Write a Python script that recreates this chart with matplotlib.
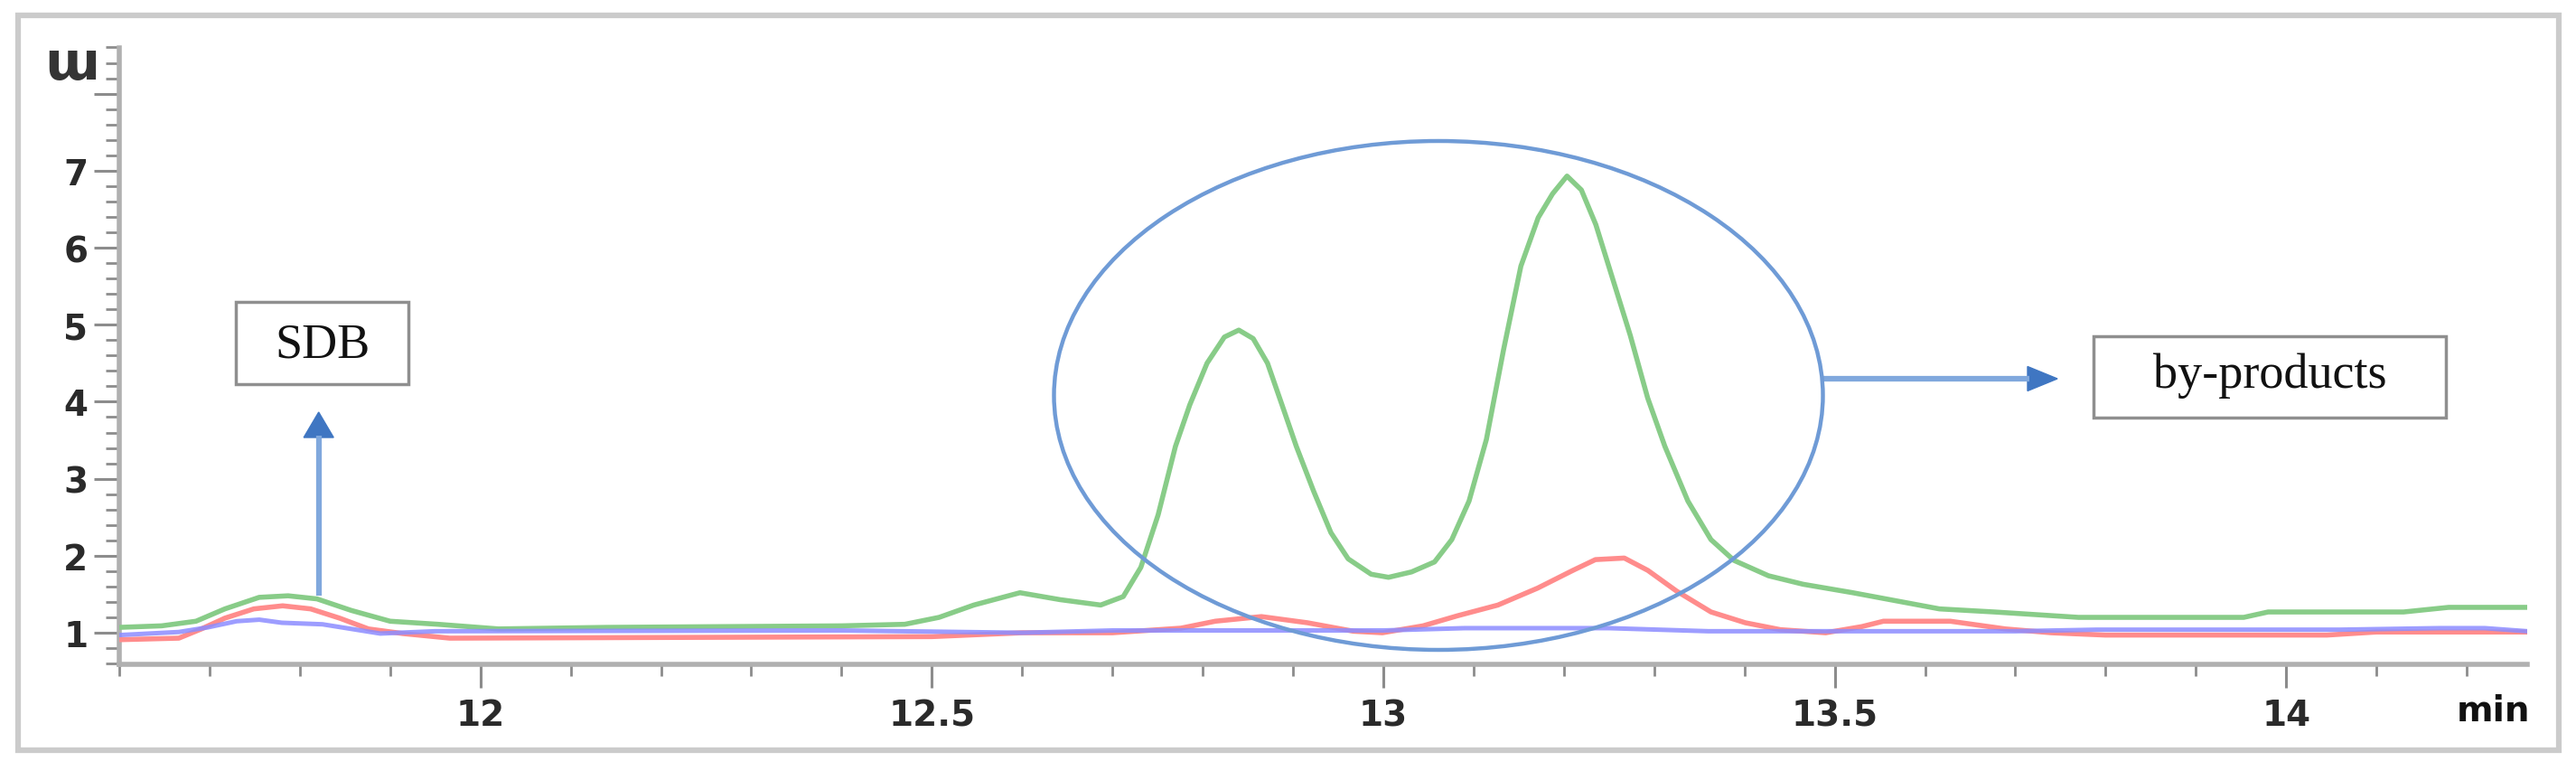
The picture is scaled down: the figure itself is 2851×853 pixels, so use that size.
import matplotlib
matplotlib.use("Agg")
import matplotlib.pyplot as plt
from matplotlib.patches import Rectangle, Ellipse, Polygon
from matplotlib.lines import Line2D
from matplotlib.ticker import MultipleLocator, FixedLocator

# ---------------- data ----------------
green_t = [11.60, 11.647, 11.685, 11.717, 11.755, 11.787, 11.819, 11.857, 11.90, 11.953,
           12.02, 12.14, 12.40, 12.47, 12.508, 12.5465, 12.5976, 12.642, 12.687, 12.712,
           12.7315, 12.7506, 12.7698, 12.7857, 12.8048, 12.824, 12.840, 12.8559, 12.8718, 12.8878,
           12.9037, 12.9228, 12.942, 12.9611, 12.9866, 13.0058, 13.0313, 13.0568, 13.0759, 13.095,
           13.1142, 13.1333, 13.1524, 13.1716, 13.1875, 13.2035, 13.2194, 13.2354, 13.2545, 13.2736,
           13.2928, 13.3119, 13.3374, 13.3629, 13.3884, 13.4267, 13.465, 13.52, 13.616, 13.677,
           13.77, 13.953, 13.98, 14.13, 14.18, 14.267]
green_v = [1.07, 1.09, 1.15, 1.31, 1.46, 1.48, 1.44, 1.29, 1.15, 1.11,
           1.05, 1.07, 1.09, 1.11, 1.20, 1.36, 1.52, 1.43, 1.36, 1.47,
           1.85, 2.53, 3.42, 3.96, 4.50, 4.84, 4.93, 4.82, 4.50, 3.96,
           3.42, 2.84, 2.30, 1.96, 1.76, 1.72, 1.79, 1.92, 2.21, 2.71,
           3.51, 4.68, 5.76, 6.39, 6.70, 6.93, 6.75, 6.30, 5.58, 4.86,
           4.05, 3.42, 2.71, 2.21, 1.94, 1.74, 1.63, 1.52, 1.31, 1.27,
           1.20, 1.20, 1.27, 1.27, 1.33, 1.33]

red_t = [11.60, 11.666, 11.691, 11.717, 11.749, 11.781, 11.812, 11.844, 11.876, 11.914,
         11.966, 12.50, 12.60, 12.70, 12.776, 12.814, 12.865, 12.916, 12.967, 12.999,
         13.044, 13.082, 13.127, 13.171, 13.21, 13.235, 13.267, 13.293, 13.325, 13.363,
         13.401, 13.44, 13.49, 13.53, 13.554, 13.628, 13.689, 13.74, 13.80, 14.045,
         14.10, 14.267]
red_v = [0.91, 0.93, 1.05, 1.19, 1.31, 1.35, 1.31, 1.19, 1.05, 0.99,
         0.93, 0.95, 1.00, 1.00, 1.06, 1.15, 1.21, 1.13, 1.02, 1.00,
         1.09, 1.22, 1.36, 1.58, 1.81, 1.95, 1.97, 1.81, 1.54, 1.27,
         1.13, 1.04, 1.00, 1.08, 1.15, 1.15, 1.05, 1.00, 0.97, 0.97,
         1.01, 1.01]

blue_t = [11.60, 11.666, 11.698, 11.73, 11.755, 11.78, 11.825, 11.857, 11.889, 11.95,
          12.40, 12.60, 12.70, 13.00, 13.09, 13.25, 13.36, 13.50, 13.70, 13.79,
          14.06, 14.17, 14.22, 14.267]
blue_v = [0.97, 1.01, 1.07, 1.15, 1.17, 1.13, 1.11, 1.05, 0.99, 1.02,
          1.03, 1.00, 1.03, 1.03, 1.06, 1.06, 1.02, 1.02, 1.02, 1.04,
          1.04, 1.06, 1.06, 1.02]

x_major = [12, 12.5, 13, 13.5, 14]
x_labels = ["12", "12.5", "13", "13.5", "14"]
y_major = [1, 2, 3, 4, 5, 6, 7, 8]
y_labels = ["1", "2", "3", "4", "5", "6", "7", ""]
x_unit = "min"
y_unit = "m"
label_sdb = "SDB"
label_byp = "by-products"

# ---------------- figure ----------------
W, H = 2851, 854
fig = plt.figure(figsize=(W / 100, H / 100), dpi=100)
fig.patch.set_facecolor("white")


def fx(px):
    return px / W


def fy(py):
    return 1 - py / H


ax = fig.add_axes([fx(132), fy(736), fx(2797) - fx(132), fy(53.5) - fy(736)])
ax.set_xlim(11.6, 14.267)
ax.set_ylim(0.59, 8.6)

ax.plot(green_t, green_v, color="#88cc88", lw=4.0, solid_joinstyle="round", zorder=3)
ax.plot(red_t, red_v, color="#ff8c8c", lw=4.0, solid_joinstyle="round", zorder=3)
ax.plot(blue_t, blue_v, color="#8c8cff", lw=3.6, alpha=0.85, solid_joinstyle="round", zorder=4)

for s in ["top", "right"]:
    ax.spines[s].set_visible(False)
for s in ["left", "bottom"]:
    ax.spines[s].set_color("#b0b0b0")
    ax.spines[s].set_linewidth(4.0)

ax.xaxis.set_major_locator(FixedLocator(x_major))
ax.set_xticklabels(x_labels, fontweight="bold")
ax.xaxis.set_minor_locator(MultipleLocator(0.1))
ax.yaxis.set_major_locator(FixedLocator(y_major))
ax.set_yticklabels(y_labels, fontweight="bold")
ax.yaxis.set_minor_locator(MultipleLocator(0.2))

ax.tick_params(axis="x", which="major", direction="out", length=19, width=2.2,
               color="#8c8c8c", labelsize=28, pad=8, labelcolor="#2a2a2a")
ax.tick_params(axis="x", which="minor", direction="out", length=9, width=2.0, color="#8c8c8c")
ax.tick_params(axis="y", which="major", direction="out", length=20, width=2.2,
               color="#8c8c8c", labelsize=28, pad=5, labelcolor="#2a2a2a")
ax.tick_params(axis="y", which="minor", direction="out", length=11, width=2.0, color="#8c8c8c")

# axis unit texts
fig.text(fx(2760), fy(787), x_unit, fontsize=28, fontweight="bold", color="#111111",
         ha="center", va="center")
fig.text(fx(72), fy(70), y_unit, fontsize=42, fontweight="bold", color="#333333",
         ha="center", va="center", rotation=180)

# ellipse around the by-product peaks
ell = Ellipse((fx(1592), fy(438.5)), fx(851), 563 / H, transform=fig.transFigure,
              fill=False, edgecolor="#6f9bd6", lw=3.2, zorder=5)
fig.add_artist(ell)

# arrow from ellipse to by-products box
fig.add_artist(Line2D([fx(2018), fx(2246)], [fy(420), fy(420)], transform=fig.transFigure,
                      color="#80a8dd", lw=4.5, solid_capstyle="butt"))
fig.add_artist(Polygon([(fx(2277), fy(420)), (fx(2244), fy(406.5)), (fx(2244), fy(433.5))],
                       closed=True, transform=fig.transFigure, facecolor="#3f76c2",
                       edgecolor="#3f76c2", lw=1))

# SDB arrow
fig.add_artist(Line2D([fx(352.7), fx(352.7)], [fy(660), fy(483)], transform=fig.transFigure,
                      color="#80a8dd", lw=4.5, solid_capstyle="butt"))
fig.add_artist(Polygon([(fx(352.7), fy(457)), (fx(336.2), fy(485)), (fx(369.2), fy(485))],
                       closed=True, transform=fig.transFigure, facecolor="#3f76c2",
                       edgecolor="#3f76c2", lw=1))

# label boxes
fig.add_artist(Rectangle((fx(261), fy(426)), fx(452) - fx(261), fy(335) - fy(426),
                         transform=fig.transFigure, facecolor="white", edgecolor="#8f8f8f", lw=2.5))
fig.text(fx(356.5), fy(382), label_sdb, fontsize=39, family="Liberation Serif",
         color="#111111", ha="center", va="center")
fig.add_artist(Rectangle((fx(2317), fy(463)), fx(2707) - fx(2317), fy(373) - fy(463),
                         transform=fig.transFigure, facecolor="white", edgecolor="#8f8f8f", lw=2.5))
fig.text(fx(2512), fy(416), label_byp, fontsize=39, family="Liberation Serif",
         color="#111111", ha="center", va="center")

# outer frame
fig.add_artist(Rectangle((fx(20), fy(831)), fx(2832) - fx(20), fy(18) - fy(831),
                         transform=fig.transFigure, fill=False, edgecolor="#cbcbcb", lw=4.5))

fig.savefig("out.png", dpi=100, facecolor="white")
